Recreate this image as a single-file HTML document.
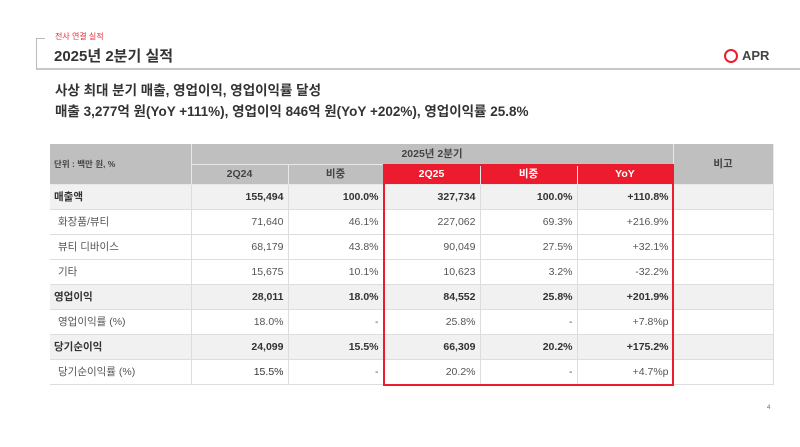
<!DOCTYPE html>
<html><head><meta charset="utf-8"><style>
*{margin:0;padding:0;box-sizing:border-box}
body{width:800px;height:447px;background:#fff;position:relative;overflow:hidden;font-family:"Liberation Sans","Noto Sans CJK KR",sans-serif;color:#333}
.a{position:absolute;white-space:nowrap}
table{position:absolute;left:50px;top:144px;border-collapse:collapse;font-size:10.5px;line-height:12px}
td{border-right:1px solid #ddd;border-bottom:1px solid #ddd;padding:0 4px;height:25px;text-align:right;color:#555;vertical-align:middle}
td:first-child{text-align:left;padding-left:4px}
tr.b td{background:#f1f1f1;font-weight:bold;color:#333}
tr.h td{background:#bfbfbf;text-align:center;font-weight:bold;color:#444;border-color:#e8e8e8;height:20px}
tr.h td.r{background:#ec1c2e;color:#fff}
.sub td:first-child{padding-left:8px}
</style></head><body>
<div class="a" style="left:36px;top:38px;width:764px;height:32px;border-left:1px solid #bbb;border-bottom:2px solid #c8c8c8"></div>
<div class="a" style="left:36px;top:38px;width:9px;border-top:1px solid #bbb"></div>
<div class="a" style="left:55px;top:31px;font-size:8px;color:#e8283a">전사 연결 실적</div>
<div class="a" style="left:54px;top:45px;font-size:15px;font-weight:bold;color:#333">2025년 2분기 실적</div>
<div class="a" style="left:724px;top:49px;width:14px;height:14px;border:2px solid #ec1c2e;border-radius:50%"></div>
<div class="a" style="left:742px;top:48px;font-size:13px;font-weight:bold;color:#444">APR</div>
<div class="a" style="left:55px;top:79px;font-size:13.5px;font-weight:bold;color:#333">사상 최대 분기 매출, 영업이익, 영업이익률 달성</div>
<div class="a" style="left:55px;top:100px;font-size:13.5px;font-weight:bold;color:#333">매출 3,277억 원(YoY +111%), 영업이익 846억 원(YoY +202%), 영업이익률 25.8%</div>
<table>
<colgroup><col style="width:141px"><col style="width:97px"><col style="width:95px"><col style="width:97px"><col style="width:97px"><col style="width:96px"><col style="width:100px"></colgroup>
<tr class="h"><td rowspan="2" style="text-align:left;font-size:8.5px">단위 : 백만 원, %</td><td colspan="5">2025년 2분기</td><td rowspan="2">비고</td></tr>
<tr class="h"><td>2Q24</td><td>비중</td><td class="r">2Q25</td><td class="r">비중</td><td class="r">YoY</td></tr>
<tr class="b"><td>매출액</td><td>155,494</td><td>100.0%</td><td>327,734</td><td>100.0%</td><td>+110.8%</td><td></td></tr>
<tr class="sub"><td>화장품/뷰티</td><td>71,640</td><td>46.1%</td><td>227,062</td><td>69.3%</td><td>+216.9%</td><td></td></tr>
<tr class="sub"><td>뷰티 디바이스</td><td>68,179</td><td>43.8%</td><td>90,049</td><td>27.5%</td><td>+32.1%</td><td></td></tr>
<tr class="sub"><td>기타</td><td>15,675</td><td>10.1%</td><td>10,623</td><td>3.2%</td><td>-32.2%</td><td></td></tr>
<tr class="b"><td>영업이익</td><td>28,011</td><td>18.0%</td><td>84,552</td><td>25.8%</td><td>+201.9%</td><td></td></tr>
<tr class="sub"><td>영업이익률 (%)</td><td>18.0%</td><td>-</td><td>25.8%</td><td>-</td><td>+7.8%p</td><td></td></tr>
<tr class="b"><td>당기순이익</td><td>24,099</td><td>15.5%</td><td>66,309</td><td>20.2%</td><td>+175.2%</td><td></td></tr>
<tr class="sub"><td>당기순이익률 (%)</td><td style="color:#333">15.5%</td><td>-</td><td>20.2%</td><td>-</td><td>+4.7%p</td><td></td></tr>
</table>
<div class="a" style="left:383px;top:164px;width:291px;height:222px;border:2px solid #ec1c2e"></div>
<div class="a" style="left:767px;top:405px;font-size:6px;color:#666">4</div>
</body></html>
